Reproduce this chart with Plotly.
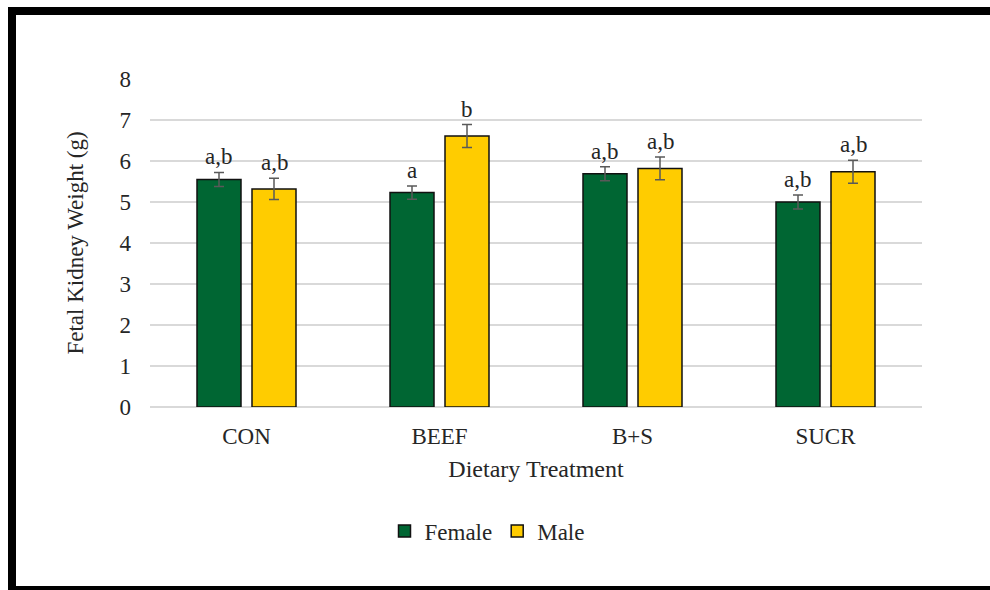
import plotly.graph_objects as go

# Fetal kidney weight by dietary treatment and sex
treatments = ["CON", "BEEF", "B+S", "SUCR"]
female_mean = [5.55, 5.23, 5.69, 5.00]
female_err = [0.17, 0.16, 0.17, 0.17]
male_mean = [5.32, 6.61, 5.82, 5.74]
male_err = [0.26, 0.28, 0.28, 0.28]
female_letters = ["a,b", "a", "a,b", "a,b"]
male_letters = ["a,b", "b", "a,b", "a,b"]
y_ticks = [0, 1, 2, 3, 4, 5, 6, 7, 8]

FONT = "Liberation Serif"
TEXT = "#262626"
GREEN = "#006633"
GOLD = "#FFCC00"
FS = 23

fig = go.Figure()
for name, means, errs, color in [
    ("Female", female_mean, female_err, GREEN),
    ("Male", male_mean, male_err, GOLD),
]:
    fig.add_trace(go.Bar(
        name=name, x=treatments, y=means,
        marker=dict(color=color, line=dict(color="#111111", width=1.5)),
        error_y=dict(type="data", array=errs, visible=True,
                     color="#595959", thickness=1.5, width=5),
    ))

# significance letters above each error bar
annotations = []
for i, cat in enumerate(treatments):
    for j, (means, errs, letters) in enumerate([
        (female_mean, female_err, female_letters),
        (male_mean, male_err, male_letters),
    ]):
        annotations.append(dict(
            x=i + (-0.143 if j == 0 else 0.143), xref="x",
            y=means[i] + errs[i], yref="y",
            text=letters[i], showarrow=False, yanchor="bottom", yshift=1,
            font=dict(family=FONT, size=FS, color=TEXT),
        ))

L, R, T, B = 150, 68, 79, 183
W, H = 990, 590
pw, ph = W - L - R, H - T - B


def px_x(px):
    return (px - L) / pw


def px_y(py):
    return (H - B - py) / ph


# dark frame around the chart
frame_path = (f"M {px_x(12)},{px_y(600)} L {px_x(12)},{px_y(11)} "
              f"L {px_x(1000)},{px_y(11)}")
shapes = [
    dict(type="path", xref="paper", yref="paper", path=frame_path,
         line=dict(color="black", width=8)),
    dict(type="line", xref="paper", yref="paper",
         x0=px_x(8), x1=px_x(1000), y0=px_y(590), y1=px_y(590),
         line=dict(color="black", width=8)),
]

fig.update_layout(
    width=W, height=H,
    margin=dict(l=L, r=R, t=T, b=B),
    paper_bgcolor="white", plot_bgcolor="white",
    barmode="group", bargap=0.43, bargroupgap=0.2,
    font=dict(family=FONT, size=FS, color=TEXT),
    xaxis=dict(
        type="category", showline=False, ticks="", showgrid=False,
        tickfont=dict(family=FONT, size=FS, color=TEXT),
        ticklabelstandoff=13,
        title=dict(text="Dietary Treatment", standoff=12,
                   font=dict(family=FONT, size=24, color=TEXT)),
    ),
    yaxis=dict(
        range=[0, 8], tickvals=y_ticks, showline=False, ticks="",
        gridcolor="#d9d9d9", gridwidth=1.5, zeroline=True,
        zerolinecolor="#d9d9d9", zerolinewidth=1.5,
        tickfont=dict(family=FONT, size=FS, color=TEXT),
        ticklabelstandoff=18,
        title=dict(text="Fetal Kidney Weight (g)", standoff=29,
                   font=dict(family=FONT, size=FS, color=TEXT)),
    ),
    legend=dict(orientation="h", x=px_x(487), xanchor="center",
                y=px_y(531), yanchor="middle",
                font=dict(family=FONT, size=FS, color=TEXT),
                itemwidth=30, tracegroupgap=0),
    annotations=annotations,
    shapes=shapes,
    showlegend=True,
)

fig.write_html("out.html")
